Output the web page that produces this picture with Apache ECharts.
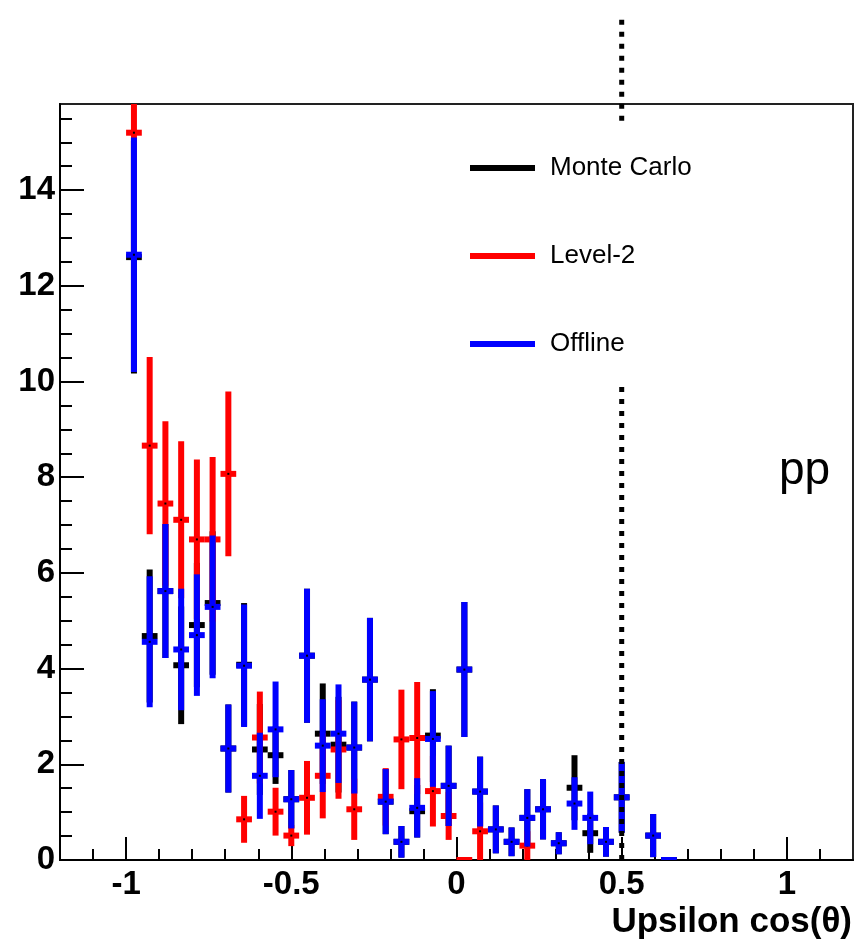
<!DOCTYPE html>
<html>
<head>
<meta charset="utf-8">
<script src="https://cdn.jsdelivr.net/npm/echarts@6/dist/echarts.min.js"></script>
<style>
  html, body { margin: 0; padding: 0; background: #fff; }
  #chart { width: 857px; height: 942px; }
</style>
</head>
<body>
<div id="chart"></div>
<script>
// Upsilon cos(theta) distributions, 42 bins over [-1, 1]
const binWidth = 2 / 42;
const binCenters = [-0.9762, -0.9286, -0.881, -0.8333, -0.7857, -0.7381, -0.6905, -0.6429,
  -0.5952, -0.5476, -0.5, -0.4524, -0.4048, -0.3571, -0.3095, -0.2619, -0.2143, -0.1667,
  -0.119, -0.0714, -0.0238, 0.0238, 0.0714, 0.119, 0.1667, 0.2143, 0.2619, 0.3095,
  0.3571, 0.4048, 0.4524, 0.5, 0.5476, 0.5952, 0.6429];

// Monte Carlo
const mcCounts = [12.6, 4.68, 5.62, 4.07, 4.91, 5.37, 2.33, 4.08, 2.31, 2.19, 1.27, 4.27,
  2.64, 2.41, 2.35, 3.77, 1.22, 0.38, 1.02, 2.60, 1.55, 3.98, 1.43, 0.64, 0.38, 0.88,
  1.06, 0.35, 1.51, 0.56, 0.38, 1.31, null, 0.51, 0];
const mcErrors = [2.43, 1.39, 1.4, 1.23, 1.3, 1.5, 0.92, 1.29, 0.95, 0.6, 0.61, 1.4,
  1.05, 1.0, 0.96, 1.29, 0.68, 0.33, 0.55, 0.97, 0.84, 1.41, 0.73, 0.5, 0.3, 0.6,
  0.63, 0.23, 0.68, 0.41, 0.31, 0.74, null, 0.45, 0];

// Level-2 trigger
const l2Counts = [15.2, 8.66, 7.45, 7.11, 6.70, 6.70, 8.07, 0.85, 2.56, 1.01, 0.51, 1.30,
  1.76, 2.31, 1.06, null, 1.32, 2.52, 2.55, 1.44, 0.92, 0, 0.6, null, null, 0.30,
  null, null, null, null, null, null, null, null, null];
const l2Errors = [2.6, 1.85, 1.72, 1.64, 1.67, 1.72, 1.72, 0.49, 0.96, 0.5, 0.22, 0.77,
  0.89, 1.03, 0.64, null, 0.6, 1.04, 1.17, 0.74, 0.5, 0, 0.6, null, null, 0.3,
  null, null, null, null, null, null, null, null, null];

// Offline reconstruction
const offCounts = [12.65, 4.56, 5.62, 4.40, 4.70, 5.29, 2.33, 4.06, 1.76, 2.73, 1.27, 4.27,
  2.39, 2.64, 2.35, 3.77, 1.22, 0.38, 1.09, 2.53, 1.55, 3.98, 1.43, 0.64, 0.38, 0.88,
  1.06, 0.35, 1.18, 0.88, 0.38, 1.31, null, 0.51, 0];
const offErrors = [2.45, 1.37, 1.4, 1.27, 1.27, 1.49, 0.92, 1.28, 0.9, 1.0, 0.61, 1.4,
  0.97, 1.03, 0.96, 1.29, 0.68, 0.33, 0.62, 1.0, 0.84, 1.41, 0.73, 0.5, 0.3, 0.6,
  0.63, 0.23, 0.55, 0.55, 0.31, 0.74, null, 0.45, 0];

// cut at cos(theta) = 0.5, broken where the legend box sits
const cutSegments = [[0.5, 0, 9.93], [0.5, 15.45, 17.7]];

const xMajorTicks = [-1, -0.5, 0, 0.5, 1];
const xMinorTicks = [-1.1, -0.9, -0.8, -0.7, -0.6, -0.4, -0.3, -0.2, -0.1, 0.1, 0.2, 0.3, 0.4,
  0.6, 0.7, 0.8, 0.9, 1.1];
const yMajorTicks = [0, 2, 4, 6, 8, 10, 12, 14];
const yMinorTicks = [0.5, 1, 1.5, 2.5, 3, 3.5, 4.5, 5, 5.5, 6.5, 7, 7.5, 8.5, 9, 9.5, 10.5,
  11, 11.5, 12.5, 13, 13.5, 14.5, 15, 15.5];

const FONT = '"Liberation Sans", Arial, Helvetica, sans-serif';

function histData(counts, errors) {
  const out = [];
  counts.forEach((v, i) => {
    if (v !== null) out.push([binCenters[i], v, errors[i]]);
  });
  return out;
}

// vertical error bar + horizontal bin-width bar + small centre dot, clipped to the frame
function errorBars(color) {
  return function (params, api) {
    const x = api.value(0), y = api.value(1), e = api.value(2);
    const c = api.coord([x, y]);
    const top = api.coord([x, y + e]);
    const bot = api.coord([x, y - e]);
    const l = api.coord([x - binWidth / 2, y]);
    const r = api.coord([x + binWidth / 2, y]);
    const cs = params.coordSys;
    const box = { x: cs.x, y: cs.y, width: cs.width, height: cs.height };
    const lw = 6;
    const children = [];
    const v = echarts.graphic.clipRectByRect(
      { x: c[0] - lw / 2, y: top[1], width: lw, height: bot[1] - top[1] }, box);
    if (v && v.height > 0) children.push({ type: 'rect', shape: v, style: { fill: color } });
    const h = echarts.graphic.clipRectByRect(
      { x: l[0], y: c[1] - lw / 2, width: r[0] - l[0], height: lw }, box);
    if (h && h.height > 0) children.push({ type: 'rect', shape: h, style: { fill: color } });
    if (c[1] < cs.y + cs.height - 1) {
      children.push({ type: 'rect', shape: { x: c[0] - 1, y: c[1] - 1, width: 2, height: 2 },
        style: { fill: '#000' } });
    }
    return { type: 'group', children };
  };
}

const chart = echarts.init(document.getElementById('chart'), null, { renderer: 'canvas' });

const axisLabelStyle = { fontSize: 33, fontWeight: 'bold', color: '#000', fontFamily: FONT };

chart.setOption({
  animation: false,
  backgroundColor: '#fff',
  grid: {
    left: 60, top: 104, right: 4, bottom: 82,
    show: true, borderColor: '#222', borderWidth: 2, backgroundColor: 'transparent',
    outerBoundsMode: 'none', containLabel: false
  },
  title: {
    text: 'Upsilon cos(\u03b8)',
    right: 5, top: 905, padding: 0,
    textStyle: { fontSize: 35, fontWeight: 'bold', color: '#000', fontFamily: FONT }
  },
  legend: {
    orient: 'vertical', left: 470, top: 153, padding: 0,
    itemWidth: 65, itemHeight: 6, itemGap: 58, icon: 'rect',
    textStyle: { fontSize: 26, color: '#000', fontFamily: FONT, lineHeight: 30, padding: [0, 0, 0, 10] },
    data: ['Monte Carlo', 'Level-2', 'Offline'],
    selectedMode: false
  },
  xAxis: [{
    type: 'value', min: -1.2, max: 1.2, position: 'bottom',
    axisLine: { show: true, onZero: false, lineStyle: { color: '#000', width: 2 } },
    axisTick: { show: true, inside: true, length: 23, customValues: xMajorTicks,
      lineStyle: { color: '#000', width: 2 } },
    axisLabel: Object.assign({ customValues: xMajorTicks, margin: 8 }, axisLabelStyle),
    splitLine: { show: false }
  }, {
    type: 'value', min: -1.2, max: 1.2, position: 'bottom',
    axisLine: { show: false, onZero: false },
    axisTick: { show: true, inside: true, length: 11, customValues: xMinorTicks,
      lineStyle: { color: '#000', width: 2 } },
    axisLabel: { show: false },
    splitLine: { show: false }
  }],
  yAxis: [{
    type: 'value', min: 0, max: 15.8, position: 'left',
    axisLine: { show: true, onZero: false, lineStyle: { color: '#000', width: 2 } },
    axisTick: { show: true, inside: true, length: 24, customValues: yMajorTicks,
      lineStyle: { color: '#000', width: 2 } },
    axisLabel: Object.assign({ customValues: yMajorTicks, margin: 5 }, axisLabelStyle),
    splitLine: { show: false }
  }, {
    type: 'value', min: 0, max: 15.8, position: 'left',
    axisLine: { show: false, onZero: false },
    axisTick: { show: true, inside: true, length: 12, customValues: yMinorTicks,
      lineStyle: { color: '#000', width: 2 } },
    axisLabel: { show: false },
    splitLine: { show: false }
  }],
  graphic: [{
    type: 'text', x: 779, y: 471,
    style: { text: 'pp', fontSize: 46, fill: '#000', fontFamily: FONT,
      verticalAlign: 'middle', align: 'left' }
  }],
  series: [{
    name: 'Monte Carlo', type: 'custom', xAxisIndex: 0, yAxisIndex: 0,
    itemStyle: { color: '#000000' },
    renderItem: errorBars('#000000'),
    encode: { x: 0, y: 1 },
    data: histData(mcCounts, mcErrors), z: 2
  }, {
    name: 'Level-2', type: 'custom', xAxisIndex: 0, yAxisIndex: 0,
    itemStyle: { color: '#ff0000' },
    renderItem: errorBars('#ff0000'),
    encode: { x: 0, y: 1 },
    data: histData(l2Counts, l2Errors), z: 2
  }, {
    name: 'Offline', type: 'custom', xAxisIndex: 0, yAxisIndex: 0,
    itemStyle: { color: '#0000ff' },
    renderItem: errorBars('#0000ff'),
    encode: { x: 0, y: 1 },
    data: histData(offCounts, offErrors), z: 2
  }, {
    name: 'cut', type: 'custom', xAxisIndex: 0, yAxisIndex: 0,
    renderItem: function (params, api) {
      const p0 = api.coord([api.value(0), api.value(1)]);
      const p1 = api.coord([api.value(0), api.value(2)]);
      return { type: 'line', shape: { x1: p0[0], y1: p0[1], x2: p1[0], y2: p1[1] },
        style: { stroke: '#000', lineWidth: 5, lineDash: [5, 7] } };
    },
    encode: { x: 0, y: [1, 2] },
    data: cutSegments, z: 5, silent: true
  }]
});
</script>
</body>
</html>
